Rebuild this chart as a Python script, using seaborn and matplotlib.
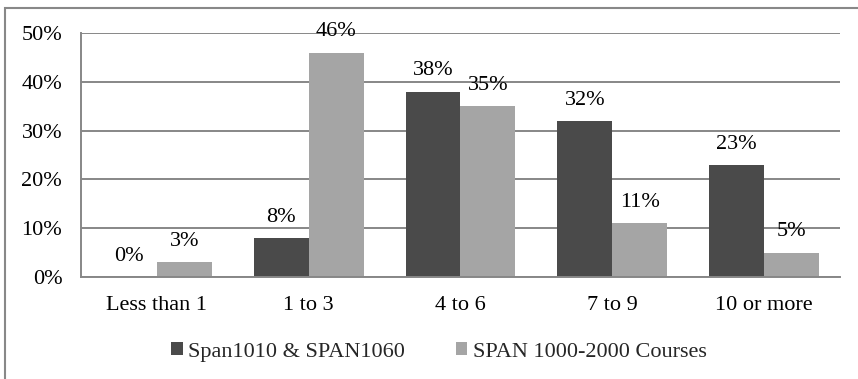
import matplotlib
matplotlib.use("Agg")
import matplotlib.pyplot as plt
from matplotlib.patches import Rectangle
import seaborn as sns
import pandas as pd

categories = ["Less than 1", "1 to 3", "4 to 6", "7 to 9", "10 or more"]
series_names = ["Span1010 & SPAN1060", "SPAN 1000-2000 Courses"]
span1010_1060 = [0, 8, 38, 32, 23]
span1000_2000 = [3, 46, 35, 11, 5]
y_ticks = [0, 10, 20, 30, 40, 50]

df = pd.DataFrame({
    "category": categories * 2,
    "series": [series_names[0]] * len(categories) + [series_names[1]] * len(categories),
    "value": span1010_1060 + span1000_2000,
})

sns.set_theme(style="white")
plt.rcParams["font.family"] = ["Liberation Serif", "DejaVu Serif"]

W, H = 858, 379
FS = 16
fig = plt.figure(figsize=(W / 100, H / 100), dpi=100)
ax = fig.add_axes([81 / W, 1 - 277 / H, (840 - 81) / W, (277 - 33) / H])

dark, light = "#4a4a4a", "#a5a5a5"
sns.barplot(data=df, x="category", y="value", hue="series", order=categories,
            hue_order=series_names, palette=[dark, light], saturation=1,
            width=0.724, gap=0, linewidth=0, ax=ax, legend=True)

grid_color = "#878787"
ax.set_ylim(0, 50)
ax.set_xlim(-0.5, len(categories) - 0.5)
ax.set_yticks(y_ticks)
ax.set_yticklabels([f"{t}%" for t in y_ticks])
ax.yaxis.grid(True, color=grid_color, linewidth=1.4)
ax.set_axisbelow(True)
ax.set_xlabel("")
ax.set_ylabel("")
for side in ["top", "right"]:
    ax.spines[side].set_visible(False)
for side in ["left", "bottom"]:
    ax.spines[side].set_color(grid_color)
    ax.spines[side].set_linewidth(1.4)
ax.tick_params(axis="both", length=0, labelsize=FS, colors="black")
ax.tick_params(axis="x", pad=14)
ax.tick_params(axis="y", pad=13.5)

for container in ax.containers:
    ax.bar_label(container, labels=[f"{v:.0f}%" for v in container.datavalues],
                 fontsize=FS, padding=8, color="black")

handles, labels = ax.get_legend_handles_labels()
ax.legend_.remove()
fig.legend(handles, labels, loc="center", bbox_to_anchor=(439 / W, 1 - 352 / H),
           ncol=2, frameon=False, fontsize=FS, handlelength=0.5,
           handleheight=0.5, handletextpad=0.25, columnspacing=2.3)

# chart area border (left and top edges visible)
fig.add_artist(Rectangle((4.5 / W, -0.1), 1.2, 1 - 8 / H + 0.1, transform=fig.transFigure,
                         fill=False, edgecolor="#888888", linewidth=1.5))

fig.savefig("out.png", dpi=100)
